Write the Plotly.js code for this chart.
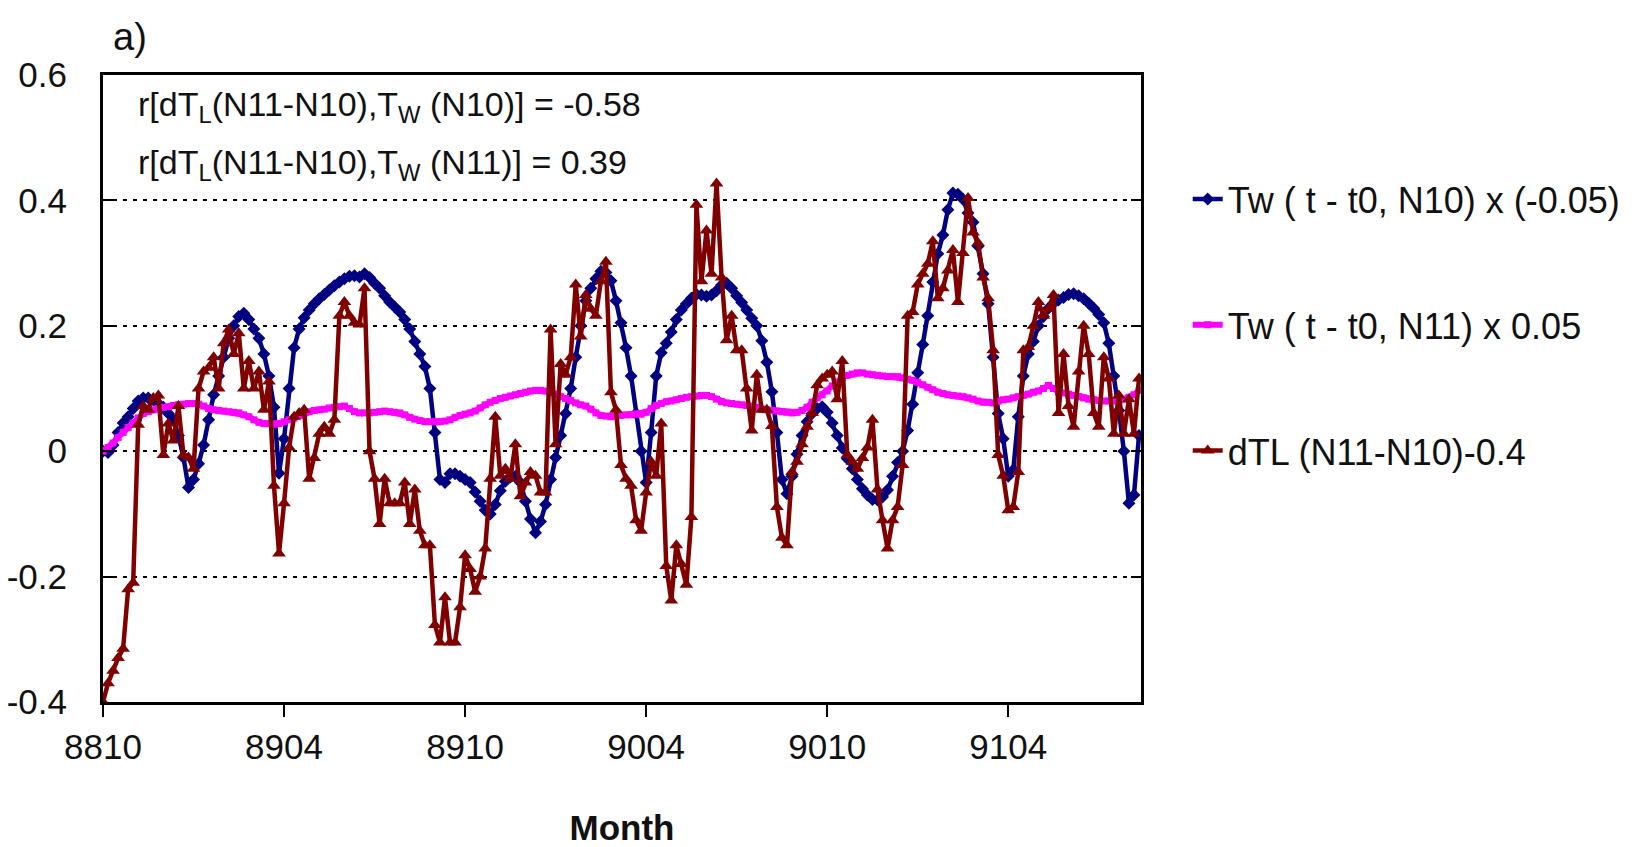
<!DOCTYPE html>
<html>
<head>
<meta charset="utf-8">
<script src="https://cdn.plot.ly/plotly-3.0.1.min.js"></script>
<style>
html,body{margin:0;padding:0;background:#ffffff;}
#chart{width:1645px;height:847px;}
</style>
</head>
<body>
<div id="chart"></div>
<script>
// Tick labels (YYMM) placed every 6 months
const tickMonths = ['8810', '8904', '8910', '9004', '9010', '9104'];
const monthsPerTick = 6;
const samplesPerMonth = 6; // pentad samples

// Tw(t - t0, N10) x (-0.05)
const blueVals = [
  0.0, -0.002, 0.01, 0.03, 0.045, 0.055, 0.068, 0.08, 0.085, 0.085,
  0.082, 0.076, 0.07, 0.06, 0.05, 0.025, -0.01, -0.058, -0.045, -0.02,
  0.01, 0.05, 0.09, 0.12, 0.15, 0.18, 0.2, 0.215, 0.22, 0.21,
  0.195, 0.18, 0.155, 0.12, 0.07, -0.035, 0.02, 0.1, 0.165, 0.195,
  0.213, 0.225, 0.235, 0.243, 0.25, 0.257, 0.264, 0.27, 0.275, 0.279,
  0.28, 0.278, 0.283, 0.277, 0.268, 0.26, 0.248, 0.238, 0.23, 0.222,
  0.21, 0.195, 0.175, 0.155, 0.135, 0.1, 0.03, -0.045, -0.05, -0.036,
  -0.036, -0.04, -0.045, -0.05, -0.065, -0.08, -0.094, -0.1, -0.085, -0.063,
  -0.048, -0.041, -0.04, -0.05, -0.08, -0.108, -0.13, -0.112, -0.085, -0.045,
  -0.01, 0.025, 0.06, 0.1, 0.15, 0.2, 0.24, 0.26, 0.275, 0.287,
  0.285, 0.272, 0.24, 0.205, 0.165, 0.12, 0.06, 0.0, -0.05, 0.03,
  0.12, 0.157, 0.172, 0.19, 0.21, 0.225, 0.235, 0.244, 0.25, 0.249,
  0.247, 0.249, 0.256, 0.265, 0.268, 0.26, 0.248, 0.237, 0.225, 0.212,
  0.2, 0.176, 0.142, 0.095, 0.03, -0.045, -0.068, -0.04, -0.005, 0.025,
  0.047, 0.06, 0.068, 0.071, 0.062, 0.045, 0.025, 0.005, -0.012, -0.028,
  -0.045, -0.06, -0.07, -0.077, -0.078, -0.073, -0.062, -0.04, -0.018, 0.0,
  0.033, 0.075, 0.125, 0.17, 0.216, 0.27, 0.315, 0.345, 0.385, 0.412,
  0.41, 0.402, 0.38, 0.365, 0.327, 0.283, 0.235, 0.15, 0.06, 0.02,
  -0.04, -0.03, 0.055, 0.12, 0.155, 0.175, 0.2, 0.215, 0.228, 0.236,
  0.241, 0.245, 0.25, 0.251, 0.248, 0.243, 0.236, 0.228, 0.218, 0.205,
  0.172, 0.12, 0.065, 0.0, -0.083, -0.07, 0.025
];

// Tw(t - t0, N11) x 0.05
const pinkVals = [
  0.0, 0.006, 0.013, 0.022, 0.03, 0.038, 0.045, 0.053, 0.06, 0.063,
  0.066, 0.068, 0.07, 0.071, 0.073, 0.074, 0.075, 0.076, 0.076, 0.075,
  0.072, 0.068, 0.066, 0.065, 0.064, 0.063, 0.062, 0.061, 0.058, 0.055,
  0.05, 0.046, 0.044, 0.044, 0.043, 0.044, 0.047, 0.05, 0.053, 0.057,
  0.061, 0.063, 0.065, 0.066, 0.067, 0.069, 0.07, 0.071, 0.072, 0.068,
  0.063, 0.061, 0.061, 0.061, 0.062, 0.063, 0.064, 0.063, 0.062, 0.061,
  0.058, 0.054, 0.051, 0.049, 0.047, 0.047, 0.047, 0.047, 0.048, 0.05,
  0.054, 0.057, 0.059, 0.061, 0.064, 0.069, 0.074, 0.078, 0.081, 0.084,
  0.086, 0.088, 0.09, 0.092, 0.094, 0.096, 0.097, 0.097, 0.096, 0.094,
  0.091, 0.087, 0.084, 0.081, 0.077, 0.074, 0.072, 0.067, 0.061, 0.057,
  0.056, 0.055, 0.056, 0.057, 0.058, 0.058, 0.059, 0.059, 0.062, 0.068,
  0.073, 0.076, 0.079, 0.08, 0.082, 0.084, 0.086, 0.087, 0.088, 0.089,
  0.089, 0.087, 0.083, 0.079, 0.077, 0.076, 0.075, 0.074, 0.073, 0.072,
  0.07, 0.067, 0.066, 0.065, 0.064, 0.063, 0.062, 0.061, 0.062, 0.065,
  0.07, 0.078, 0.085, 0.09, 0.096, 0.104, 0.11, 0.117, 0.121, 0.123,
  0.125, 0.125, 0.123, 0.122, 0.121, 0.12, 0.119, 0.119, 0.119, 0.117,
  0.115, 0.113, 0.11, 0.106, 0.102, 0.098, 0.094, 0.092, 0.09, 0.089,
  0.088, 0.087, 0.085, 0.083, 0.08, 0.078, 0.078, 0.077, 0.08, 0.082,
  0.083, 0.085, 0.087, 0.089, 0.091, 0.094, 0.096, 0.1, 0.105, 0.1,
  0.095, 0.093, 0.091, 0.089, 0.087, 0.085, 0.083, 0.082, 0.081, 0.08,
  0.08, 0.08, 0.081, 0.083, 0.086, 0.09, 0.097
];

// dTL(N11-N10) - 0.4
const redVals = [
  -0.4, -0.37, -0.35, -0.33, -0.315, -0.22, -0.21, 0.042, 0.072, 0.066,
  0.085, 0.089, -0.006, 0.044, 0.017, 0.072, -0.006, -0.01, -0.028, 0.1,
  0.127, 0.133, 0.15, 0.1, 0.172, 0.194, 0.155, 0.188, 0.1, 0.144,
  0.1, 0.127, 0.066, 0.111, -0.055, -0.163, -0.083, 0.006, 0.055, 0.061,
  0.066, -0.044, -0.011, 0.028, 0.039, 0.028, 0.05, 0.216, 0.238, 0.216,
  0.205, 0.202, 0.26, 0.0, -0.044, -0.116, -0.044, -0.083, -0.083, -0.083,
  -0.05, -0.116, -0.061, -0.127, -0.15, -0.15, -0.277, -0.305, -0.233, -0.305,
  -0.305, -0.249, -0.166, -0.188, -0.224, -0.2, -0.155, -0.044, 0.055, -0.039,
  -0.028, -0.044, 0.011, -0.072, -0.05, -0.033, -0.039, -0.066, -0.066, 0.194,
  0.011, 0.139, 0.122, 0.15, 0.266, 0.183, 0.249, 0.227, 0.216, 0.271,
  0.302, 0.094, 0.066, -0.022, -0.044, -0.055, -0.11, -0.127, -0.066, -0.017,
  -0.039, 0.044, -0.183, -0.238, -0.15, -0.18, -0.213, -0.105, 0.393, 0.271,
  0.352, 0.283, 0.427, 0.277, 0.177, 0.216, 0.161, 0.161, 0.1, 0.033,
  0.122, 0.066, 0.066, 0.04, -0.089, -0.138, -0.15, -0.033, -0.017, 0.011,
  0.039, 0.061, 0.105, 0.116, 0.122, 0.127, 0.083, 0.144, -0.006, -0.017,
  -0.028, -0.011, 0.006, 0.05, -0.061, -0.11, -0.155, -0.11, -0.089, -0.022,
  0.216, 0.222, 0.266, 0.283, 0.299, 0.335, 0.244, 0.26, 0.288, 0.321,
  0.238, 0.316, 0.404, 0.349, 0.332, 0.277, 0.244, 0.161, -0.006, -0.039,
  -0.094, -0.089, -0.033, 0.161, 0.166, 0.2, 0.238, 0.216, 0.227, 0.249,
  0.061, 0.155, 0.072, 0.039, 0.127, 0.2, 0.155, 0.061, 0.039, 0.15,
  0.116, 0.028, 0.089, 0.028, 0.083, 0.028, 0.116
];

const seriesNames = [
  'Tw ( t - t0, N10) x (-0.05)',
  'Tw ( t - t0, N11) x 0.05',
  'dTL (N11-N10)-0.4'
];
const yTickVals = [-0.4, -0.2, 0, 0.2, 0.4, 0.6];
const yTickText = ['-0.4', '-0.2', '0', '0.2', '0.4', '0.6'];

const xIdx = arr => arr.map((_, i) => i / samplesPerMonth);
const tickPos = tickMonths.map((_, i) => i * monthsPerTick);

const sans = '"Liberation Sans", Arial, sans-serif';

const traces = [
  {
    x: xIdx(blueVals), y: blueVals, name: seriesNames[0], legendgroup: 'g1',
    type: 'scatter', mode: 'lines+markers',
    line: {color: '#000080', width: 4.5},
    marker: {symbol: 'diamond', size: 10, color: '#000080'}
  },
  {
    x: xIdx(pinkVals), y: pinkVals, name: seriesNames[1], legendgroup: 'g2',
    type: 'scatter', mode: 'lines+markers',
    line: {color: '#FF00FF', width: 6},
    marker: {symbol: 'square', size: 7, color: '#FF00FF'}
  },
  {
    x: xIdx(redVals), y: redVals, name: seriesNames[2], legendgroup: 'g3',
    type: 'scatter', mode: 'lines+markers',
    line: {color: '#800000', width: 4.5},
    marker: {symbol: 'triangle-up', size: 12, color: '#800000'}
  }
];

const layout = {
  width: 1645, height: 847,
  margin: {l: 103, r: 504, t: 75, b: 145},
  paper_bgcolor: '#ffffff', plot_bgcolor: '#ffffff',
  showlegend: true,
  legend: {
    x: 1.045, xanchor: 'left', y: 0.85, yanchor: 'top',
    font: {family: sans, size: 36, color: '#111111'},
    tracegroupgap: 76, bgcolor: 'rgba(0,0,0,0)', borderwidth: 0
  },
  xaxis: {
    range: [0, 34.4],
    tickmode: 'array', tickvals: tickPos, ticktext: tickMonths,
    ticks: 'outside', ticklen: 12, tickwidth: 2, tickcolor: '#000000',
    showline: true, linecolor: '#000000', linewidth: 3, mirror: true,
    showgrid: false, zeroline: false,
    tickfont: {family: sans, size: 35, color: '#111111'},
    ticklabelstandoff: 0,
    title: {text: '<b>Month</b>', font: {family: sans, size: 35, color: '#111111'}, standoff: 52}
  },
  yaxis: {
    range: [-0.4, 0.6],
    tickmode: 'array', tickvals: yTickVals, ticktext: yTickText,
    ticks: 'inside', ticklen: 10, tickwidth: 2, tickcolor: '#000000',
    showline: true, linecolor: '#000000', linewidth: 3, mirror: 'ticks',
    showgrid: true, gridcolor: '#000000', gridwidth: 2, griddash: '4px,6px',
    zeroline: false,
    tickfont: {family: sans, size: 35, color: '#111111'},
    ticklabelstandoff: 26
  },
  annotations: [
    {text: 'a)', xref: 'paper', yref: 'paper', x: 0.008, y: 1.06, xanchor: 'left', yanchor: 'middle',
     showarrow: false, font: {family: sans, size: 38, color: '#111111'}},
    {text: 'r[dT<sub>L</sub>(N11-N10),T<sub>W</sub> (N10)] = -0.58', xref: 'paper', yref: 'paper',
     x: 0.032, y: 0.949, xanchor: 'left', yanchor: 'middle', showarrow: false,
     font: {family: sans, size: 34, color: '#111111'}},
    {text: 'r[dT<sub>L</sub>(N11-N10),T<sub>W</sub> (N11)] = 0.39', xref: 'paper', yref: 'paper',
     x: 0.032, y: 0.857, xanchor: 'left', yanchor: 'middle', showarrow: false,
     font: {family: sans, size: 34, color: '#111111'}}
  ]
};

Plotly.newPlot('chart', traces, layout, {displayModeBar: false, staticPlot: true});
</script>
</body>
</html>
